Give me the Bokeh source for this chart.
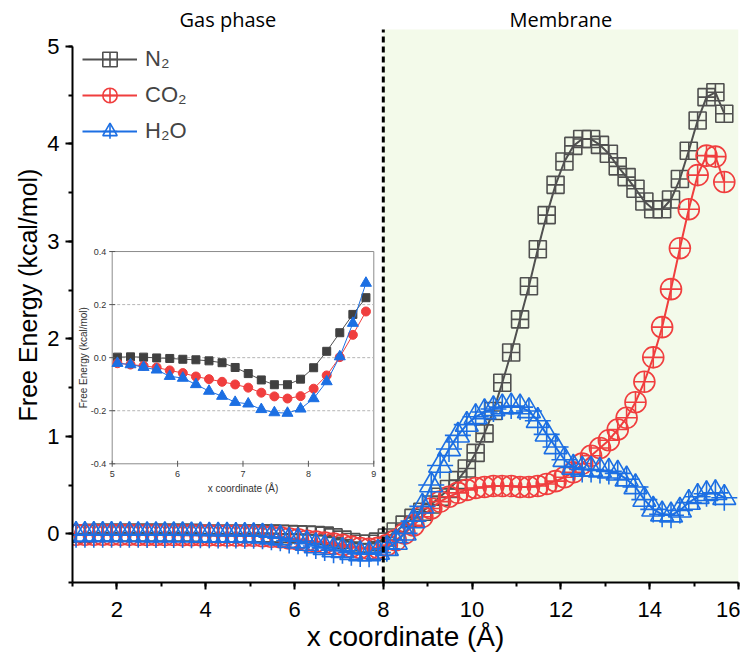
import math
from bokeh.plotting import figure
from bokeh.models import Range1d, BoxAnnotation, Legend, LegendItem, SingleIntervalTicker
from bokeh.core.properties import value
from bokeh.embed import file_html
from bokeh.resources import INLINE

# ---------------- data ----------------
x_coord = [1.08, 1.28, 1.48, 1.68, 1.88, 2.08, 2.28, 2.48, 2.68, 2.88,
           3.08, 3.28, 3.48, 3.68, 3.88, 4.08, 4.28, 4.48, 4.68, 4.88,
           5.08, 5.28, 5.48, 5.68, 5.88, 6.08, 6.28, 6.48, 6.68, 6.88,
           7.08, 7.28, 7.48, 7.68, 7.88, 8.08, 8.28, 8.48, 8.68, 8.88,
           9.08, 9.28, 9.48, 9.68, 9.88, 10.08, 10.28, 10.48, 10.68, 10.88,
           11.08, 11.28, 11.48, 11.68, 11.88, 12.08, 12.28, 12.48, 12.68, 12.88,
           13.08, 13.28, 13.48, 13.68, 13.88, 14.08, 14.28, 14.48, 14.68, 14.88,
           15.08, 15.28, 15.48, 15.68]

n2 = [0.00, 0.00, 0.01, 0.01, 0.01, 0.01, 0.01, 0.01, 0.01, 0.01,
      0.01, 0.01, 0.01, 0.01, 0.00, 0.00, 0.00, 0.00, 0.00, 0.00,
      0.002, 0.003, 0.002, -0.001, -0.003, -0.006, -0.008, -0.012, -0.019, -0.037,
      -0.060, -0.084, -0.102, -0.102, -0.081, -0.038, 0.024, 0.094, 0.163, 0.226,
      0.30, 0.38, 0.46, 0.55, 0.67, 0.83, 1.03, 1.26, 1.55, 1.86,
      2.20, 2.54, 2.92, 3.27, 3.58, 3.82, 3.98, 4.05, 4.05, 3.99,
      3.90, 3.77, 3.66, 3.54, 3.41, 3.33, 3.33, 3.43, 3.64, 3.93,
      4.24, 4.48, 4.53, 4.31]

co2 = [-0.010, -0.010, -0.010, -0.010, -0.011, -0.011, -0.011, -0.012, -0.012, -0.012,
       -0.013, -0.013, -0.014, -0.014, -0.015, -0.016, -0.017, -0.018, -0.019, -0.020,
       -0.021, -0.026, -0.031, -0.037, -0.048, -0.058, -0.071, -0.081, -0.091, -0.101,
       -0.113, -0.132, -0.146, -0.154, -0.145, -0.117, -0.067, 0.002, 0.086, 0.174,
       0.26, 0.33, 0.38, 0.42, 0.45, 0.47, 0.48, 0.49, 0.49, 0.49,
       0.48, 0.48, 0.49, 0.51, 0.54, 0.58, 0.63, 0.72, 0.80, 0.88,
       0.96, 1.07, 1.19, 1.35, 1.56, 1.81, 2.12, 2.51, 2.93, 3.33,
       3.68, 3.88, 3.87, 3.61]

h2o = [-0.010, -0.010, -0.010, -0.010, -0.010, -0.011, -0.011, -0.011, -0.012, -0.012,
       -0.012, -0.013, -0.013, -0.014, -0.015, -0.016, -0.017, -0.018, -0.019, -0.020,
       -0.021, -0.026, -0.036, -0.046, -0.070, -0.077, -0.101, -0.126, -0.145, -0.168,
       -0.174, -0.195, -0.207, -0.209, -0.193, -0.154, -0.090, 0.004, 0.130, 0.281,
       0.50, 0.70, 0.87, 1.01, 1.12, 1.20, 1.25, 1.28, 1.30, 1.31,
       1.30, 1.26, 1.16, 1.02, 0.89, 0.76, 0.68, 0.66, 0.66, 0.65,
       0.64, 0.62, 0.56, 0.48, 0.35, 0.25, 0.20, 0.19, 0.24, 0.32,
       0.38, 0.41, 0.42, 0.37]

series_names = ["N\u2082", "CO\u2082", "H\u2082O"]
region_labels = ["Gas phase", "Membrane"]
region_centers = [4.5, 12.0]
boundary_x = 8.0
y_axis_title = "Free Energy (kcal/mol)"
x_axis_title = "x coordinate (\u00c5)"

inset_x_ticks = [5, 6, 7, 8, 9]
inset_x_tick_labels = ["5", "6", "7", "8", "9"]
inset_y_ticks = [-0.4, -0.2, 0.0, 0.2, 0.4]
inset_y_tick_labels = ["-0.4", "-0.2", "0.0", "0.2", "0.4"]
inset_grid = [-0.2, 0.0, 0.2]
inset_first, inset_last = 20, 40  # x from 5.08 to 8.88

# ---------------- styling ----------------
C_N2 = "#505050"
C_CO2 = "#F03E3E"
C_H2O = "#1C6FE3"
C_N2_FILL = "#404040"
FONT = "Liberation Sans"

p = figure(width=740, height=662,
           x_range=Range1d(1, 16), y_range=Range1d(-0.5, 5.4),
           output_backend="svg", toolbar_location=None,
           min_border_left=72, min_border_right=2,
           min_border_top=7, min_border_bottom=80)
p.outline_line_color = None
p.grid.visible = False
p.background_fill_color = "white"

p.xaxis.ticker = SingleIntervalTicker(interval=2, num_minor_ticks=2)
p.yaxis.ticker = SingleIntervalTicker(interval=1, num_minor_ticks=2)
p.yaxis.bounds = (-0.5, 5)
p.xaxis.axis_label = x_axis_title
p.yaxis.axis_label = y_axis_title
for ax in (p.xaxis, p.yaxis):
    ax.axis_line_width = 2
    ax.axis_line_color = "black"
    ax.major_tick_line_width = 2
    ax.minor_tick_line_width = 2
    ax.major_tick_line_color = "black"
    ax.minor_tick_line_color = "black"
    ax.major_tick_out = 7
    ax.major_tick_in = 0
    ax.minor_tick_out = 4
    ax.minor_tick_in = 0
    ax.major_label_text_font = FONT
    ax.major_label_text_font_size = "22px"
    ax.major_label_text_color = "black"
    ax.axis_label_text_font = FONT
    ax.axis_label_text_font_style = "normal"
    ax.axis_label_text_color = "black"
p.xaxis.axis_label_text_font_size = "28px"
p.yaxis.axis_label_text_font_size = "25px"
p.yaxis.major_label_standoff = 6
p.yaxis.axis_label_standoff = 2
p.xaxis.major_label_standoff = 12
p.xaxis.axis_label_standoff = 1

# membrane shading
p.add_layout(BoxAnnotation(left=boundary_x, right=16, bottom=-0.5, top=5.174,
                           fill_color="#F3FAEA", fill_alpha=1.0,
                           line_color=None, level="underlay"))

# main series
l_n2 = p.line(x_coord, n2, line_color=C_N2, line_width=2)
m_n2 = p.scatter(x_coord, n2, marker="square_cross", size=17,
                 line_color=C_N2, line_width=1.6, fill_alpha=0)
l_co2 = p.line(x_coord, co2, line_color=C_CO2, line_width=2)
m_co2 = p.scatter(x_coord, co2, marker="circle_cross", size=21,
                  line_color=C_CO2, line_width=1.6, fill_alpha=0)
l_h2o = p.line(x_coord, h2o, line_color=C_H2O, line_width=2)
m_h2o = p.scatter(x_coord, h2o, marker="triangle", size=23,
                  line_color=C_H2O, line_width=1.6, fill_alpha=0)
m_h2o_pin = p.scatter(x_coord, h2o, marker="cross", size=26,
                      line_color=C_H2O, line_width=1.6)

# boundary
p.segment(x0=[boundary_x], y0=[-0.5], x1=[boundary_x], y1=[5.174],
          line_color="black", line_width=3, line_dash="6 4")

# region labels
p.text(x=region_centers, y=[5.28, 5.28], text=region_labels,
       text_font=value("Open Sans"), text_font_size="20px", text_color="black",
       text_align="center", text_baseline="middle")

# legend
legend = Legend(items=[
    LegendItem(label=series_names[0], renderers=[l_n2, m_n2]),
    LegendItem(label=series_names[1], renderers=[l_co2, m_co2]),
    LegendItem(label=series_names[2], renderers=[l_h2o, m_h2o, m_h2o_pin]),
], location=(10, 433), glyph_width=55, glyph_height=36, label_height=36,
    spacing=0, padding=0, margin=0, label_standoff=8,
    label_text_font=FONT, label_text_font_size="22px",
    background_fill_alpha=0, border_line_color=None)
p.add_layout(legend)

# ---------------- inset ----------------
sub = p.subplot(x_source=Range1d(5, 9), y_source=Range1d(-0.4, 0.4),
                x_target=Range1d(1.894, 7.786), y_target=Range1d(0.718, 2.896))
sub.quad(left=[5], right=[9], bottom=[-0.4], top=[0.4],
         fill_color="white", line_color="#8c8c8c", line_width=1)
sub.segment(x0=[5] * len(inset_grid), y0=inset_grid,
            x1=[9] * len(inset_grid), y1=inset_grid,
            line_color="#b5b5b5", line_width=1, line_dash="3 2")

ix = x_coord[inset_first:inset_last]
sub.line(ix, n2[inset_first:inset_last], line_color=C_N2, line_width=1)
sub.scatter(ix, n2[inset_first:inset_last], marker="square", size=8,
            line_color=C_N2_FILL, fill_color=C_N2_FILL)
sub.line(ix, co2[inset_first:inset_last], line_color=C_CO2, line_width=1)
sub.scatter(ix, co2[inset_first:inset_last], marker="circle", size=9,
            line_color=C_CO2, fill_color=C_CO2)
sub.line(ix, h2o[inset_first:inset_last], line_color=C_H2O, line_width=1)
sub.scatter(ix, h2o[inset_first:inset_last], marker="triangle", size=11,
            line_color=C_H2O, fill_color=C_H2O)

# inset ticks & labels
sub.scatter(inset_x_ticks, [-0.4] * len(inset_x_ticks), marker="dash", size=6,
            angle=math.pi / 2, line_color="#555555")
sub.scatter([5] * len(inset_y_ticks), inset_y_ticks, marker="dash", size=6,
            line_color="#555555")
sub.text(x=inset_x_ticks, y=[-0.4] * len(inset_x_ticks), text=inset_x_tick_labels,
         y_offset=10, text_font=value(FONT), text_font_size="9px", text_color="#333333",
         text_align="center", text_baseline="middle")
sub.text(x=[5] * len(inset_y_ticks), y=inset_y_ticks, text=inset_y_tick_labels,
         x_offset=-6, text_font=value(FONT), text_font_size="9px", text_color="#333333",
         text_align="right", text_baseline="middle")
sub.text(x=[7], y=[-0.4], text=["x coordinate (\u00c5)"], y_offset=25,
         text_font=value(FONT), text_font_size="10px", text_color="#333333",
         text_align="center", text_baseline="middle")
sub.text(x=[5], y=[0.0], text=["Free Energy (kcal/mol)"], x_offset=-29,
         angle=math.pi / 2, text_font=value(FONT), text_font_size="10px",
         text_color="#333333", text_align="center", text_baseline="middle")

open("out.html", "w").write(file_html(p, INLINE))
